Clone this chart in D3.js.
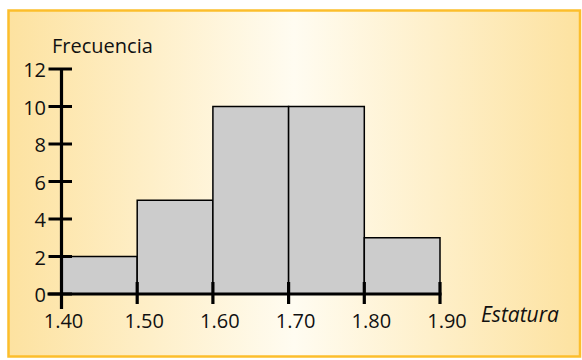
<!DOCTYPE html>
<html>
<head>
<meta charset="utf-8">
<script src="https://cdn.jsdelivr.net/npm/d3@7"></script>
<style>
  html, body { margin: 0; padding: 0; background: #ffffff; }
  svg { display: block; font-family: "Open Sans", "Noto Sans", sans-serif; }
</style>
</head>
<body>
<svg id="chart" width="582" height="360"></svg>
<script>
// Frequency histogram of heights (class limits in metres)
const classEdges = [1.40, 1.50, 1.60, 1.70, 1.80, 1.90];
const frequencies = [2, 5, 10, 10, 3];
const xTickLabels = ["1.40", "1.50", "1.60", "1.70", "1.80", "1.90"];
const yTicks = [0, 2, 4, 6, 8, 10, 12];
const yLabel = "Frecuencia";
const xLabel = "Estatura";

const svg = d3.select("#chart");

// panel background: warm horizontal gradient, pale in the middle
const defs = svg.append("defs");
const grad = defs.append("linearGradient").attr("id", "bg").attr("x1", "0%").attr("x2", "100%");
grad.append("stop").attr("offset", "0%").attr("stop-color", "#fde2a0");
grad.append("stop").attr("offset", "50%").attr("stop-color", "#fffcf1");
grad.append("stop").attr("offset", "100%").attr("stop-color", "#fde2a0");

svg.append("rect")
  .attr("x", 8.5).attr("y", 10.5).attr("width", 571.5).attr("height", 346)
  .attr("fill", "url(#bg)")
  .attr("stroke", "#fcbe2c").attr("stroke-width", 2.5);

const x = d3.scaleLinear().domain([1.40, 1.90]).range([61.5, 440]);
const y = d3.scaleLinear().domain([0, 12]).range([294, 69]);

const bins = frequencies.map((f, i) => ({ x0: classEdges[i], x1: classEdges[i + 1], f }));

// bars
svg.append("g").selectAll("rect").data(bins).join("rect")
  .attr("x", d => x(d.x0))
  .attr("y", d => y(d.f))
  .attr("width", d => x(d.x1) - x(d.x0))
  .attr("height", d => y(0) - y(d.f))
  .attr("fill", "#cccccc")
  .attr("stroke", "#000")
  .attr("stroke-width", 1.5);

// y axis
const yAxis = svg.append("g");
yAxis.append("line")
  .attr("x1", x(1.40)).attr("x2", x(1.40))
  .attr("y1", y(12) - 1).attr("y2", y(0) + 15)
  .attr("stroke", "#000").attr("stroke-width", 3.2);
yAxis.selectAll("line.tick").data(yTicks).join("line")
  .attr("class", "tick")
  .attr("x1", x(1.40) - 13).attr("x2", x(1.40) + 10.5)
  .attr("y1", d => y(d)).attr("y2", d => y(d))
  .attr("stroke", "#000").attr("stroke-width", 3);
yAxis.selectAll("text").data(yTicks).join("text")
  .attr("x", 46)
  .attr("y", d => y(d) + 8)
  .attr("text-anchor", "end")
  .attr("font-size", 20)
  .attr("fill", "#111")
  .text(d => d);

// x axis
const xAxis = svg.append("g");
xAxis.append("line")
  .attr("x1", x(1.40) - 14).attr("x2", x(1.90) + 1.5)
  .attr("y1", y(0)).attr("y2", y(0))
  .attr("stroke", "#000").attr("stroke-width", 3);
xAxis.selectAll("line.tick").data(classEdges.slice(1)).join("line")
  .attr("class", "tick")
  .attr("x1", d => x(d)).attr("x2", d => x(d))
  .attr("y1", y(0) - 12).attr("y2", y(0) + 10)
  .attr("stroke", "#000").attr("stroke-width", 3.2);
xAxis.selectAll("text").data(classEdges).join("text")
  .attr("x", (d, i) => i === 0 ? x(d) + 2 : x(d) + 7)
  .attr("y", 328)
  .attr("text-anchor", "middle")
  .attr("font-size", 20)
  .attr("fill", "#111")
  .text((d, i) => xTickLabels[i]);

// axis titles
svg.append("text")
  .attr("x", 52).attr("y", 53)
  .attr("font-size", 20).attr("fill", "#111")
  .text(yLabel);
svg.append("text")
  .attr("x", 481).attr("y", 322)
  .attr("font-size", 21).attr("font-style", "italic").attr("fill", "#111")
  .text(xLabel);
</script>
</body>
</html>
